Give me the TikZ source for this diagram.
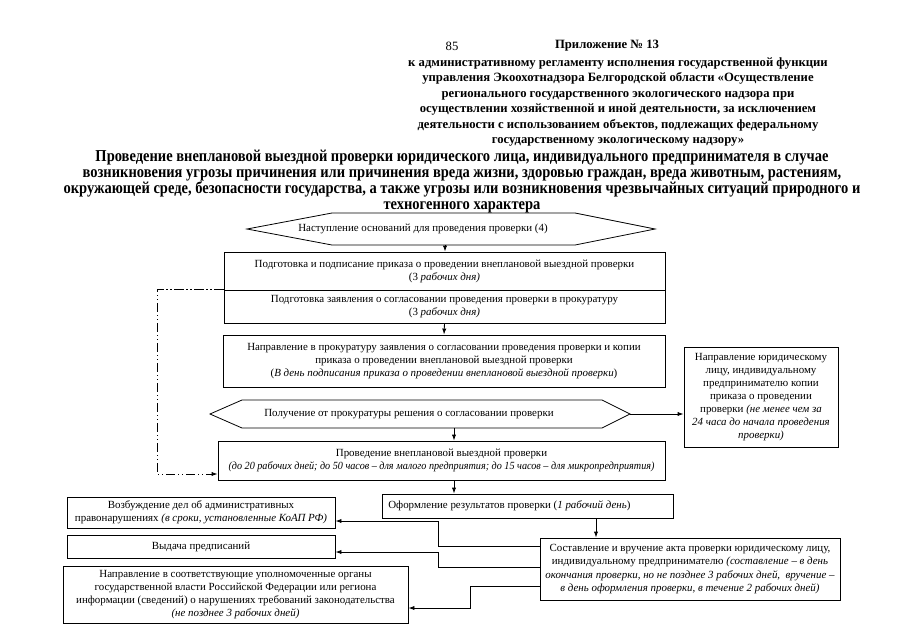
\documentclass[tikz,border=0pt]{standalone}
\usepackage{fontspec}
\setmainfont{Liberation Serif}
\newfontfamily\titlefont[FakeStretch=0.87]{Liberation Serif}
\newfontfamily\narrowit[FakeStretch=0.93]{Liberation Serif}
\usetikzlibrary{arrows.meta,shadows}
\newcommand\bxf{\fontsize{8.2}{9.8}\selectfont}
\newcommand\hdf{\fontsize{9.5}{11.6}\selectfont}
\begin{document}
\begin{tikzpicture}[x=0.75pt,y=-0.75pt,
  box/.style={draw, fill=white, line width=0.65pt, inner sep=0pt, align=center, font=\bxf,
    drop shadow={shadow xshift=0.8pt, shadow yshift=-0.8pt, fill=black!75, opacity=1}},
  txt/.style={inner sep=0pt, align=center, font=\bxf},
  hexline/.style={draw, line width=0.6pt},
  arr/.style={-{Latex[length=4.5pt,width=3.2pt]}, line width=0.65pt},
  ddarr/.style={arr, dash pattern=on 7pt off 2pt on 1pt off 2pt on 1pt off 2pt}]
\useasboundingbox (0,0) rectangle (905,640);
% header
\node[inner sep=0pt, font=\hdf] (p85) at (452,46) {85};
\node[inner sep=0pt, font=\hdf\bfseries] (app) at (607,46) {Приложение № 13};
\node[inner sep=0pt, font=\hdf\bfseries, align=center] (reg) at (618,102) {к административному регламенту исполнения государственной функции\\управления Экоохотнадзора Белгородской области «Осуществление\\регионального государственного экологического надзора при\\осуществлении хозяйственной и иной деятельности, за исключением\\деятельности с использованием объектов, подлежащих федеральному\\государственному экологическому надзору»};
\node[inner sep=0pt, font=\titlefont\bfseries\fontsize{12.5}{12}\selectfont, align=center] (title) at (462,181.5) {Проведение внеплановой выездной проверки юридического лица, индивидуального предпринимателя в случае\\возникновения угрозы причинения или причинения вреда жизни, здоровью граждан, вреда животным, растениям,\\окружающей среде, безопасности государства, а также угрозы или возникновения чрезвычайных ситуаций природного и\\техногенного характера};
% hexagon 1
\draw[hexline] (247,229) -- (332,213) -- (575,213) -- (655,229) -- (575,245) -- (332,245) -- cycle;
\node[txt] (h1) at (423,229) {Наступление оснований для проведения проверки (4)};
\coordinate (h1b) at (445,245);
% boxes
\node[box, minimum width=441*0.75pt, minimum height=38*0.75pt] (b1) at (444.5,271) {Подготовка и подписание приказа о проведении внеплановой выездной проверки\\(3 \textit{рабочих дня)}};
\node[box, minimum width=441*0.75pt, minimum height=33*0.75pt] (b2) at (444.5,306.5) {Подготовка заявления о согласовании проведения проверки в прокуратуру\\(3 \textit{рабочих дня)}};
\node[box, minimum width=442*0.75pt, minimum height=52*0.75pt] (b3) at (444,361) {Направление в прокуратуру заявления о согласовании проведения проверки и копии\\приказа о проведении внеплановой выездной проверки\\(\textit{В день подписания приказа о проведении внеплановой выездной проверки})};
% hexagon 2
\draw[hexline] (210,414) -- (242,400) -- (602,400) -- (630,414) -- (602,428) -- (242,428) -- cycle;
\node[txt] (h2) at (409,414) {Получение от прокуратуры решения о согласовании проверки};
\coordinate (h2b) at (454,428);
\coordinate (h2r) at (630,414);
\node[box, minimum width=154*0.75pt, minimum height=100*0.75pt] (r) at (761,397) {Направление юридическому\\лицу, индивидуальному\\предпринимателю копии\\приказа о проведении\\проверки \textit{(не менее чем за}\\\textit{24 часа до начала проведения}\\\textit{проверки)}};
\node[box, minimum width=447*0.75pt, minimum height=39*0.75pt] (b4) at (441.5,460.5) {Проведение внеплановой выездной проверки\\{\narrowit\itshape (до 20 рабочих дней; до 50 часов – для малого предприятия; до 15 часов – для микропредприятия)}};
\node[box, minimum width=291*0.75pt, minimum height=24*0.75pt] (b5) at (527.5,506) {};
\node[txt, anchor=west] (b5t) at (388,506) {Оформление результатов проверки (\textit{1 рабочий день})};
\node[box, minimum width=300*0.75pt, minimum height=62*0.75pt] (b6) at (690,569) {Составление и вручение акта проверки юридическому лицу,\\индивидуальному предпринимателю \textit{(составление – в день}\\\textit{окончания проверки, но не позднее 3 рабочих дней,\ \ вручение –}\\\textit{в день оформления проверки, в течение 2 рабочих дней)}};
\node[box, minimum width=268*0.75pt, minimum height=31*0.75pt] (c1) at (201,512.5) {Возбуждение дел об административных\\правонарушениях \textit{(в сроки, установленные КоАП РФ)}};
\node[box, minimum width=268*0.75pt, minimum height=23*0.75pt] (c2) at (201,546.5) {Выдача предписаний};
\node[box, minimum width=345*0.75pt, minimum height=57*0.75pt] (c3) at (235.5,594.5) {Направление в соответствующие уполномоченные органы\\государственной власти Российской Федерации или региона\\информации (сведений) о нарушениях требований законодательства\\\textit{(не позднее 3 рабочих дней)}};
% connectors
\draw[arr] (h1b) -- (h1b |- b1.north);
\draw[arr] (b2.south) -- (b3.north);
\draw[arr] (h2b) -- (h2b |- b4.north);
\draw[arr] (h2b |- b4.south) -- (h2b |- b5.north);
\draw[arr] (h2r) -- (h2r -| r.west);
\coordinate (ddc) at (157,474);
\draw[ddarr] (b2.north west) -| (ddc) -- (ddc -| b4.west);
\coordinate (k) at (596,518);
\draw[arr] (k |- b5.south) -- (k |- b6.north);
\coordinate (j1) at (438,521);
\coordinate (j2) at (438,552);
\coordinate (j3) at (470,608);
\draw[arr] ([yshift=-6.75pt]b6.north west) -| (j1) -- (j1 -| c1.east);
\draw[arr] ([yshift=-22.5pt]b6.north west) -| (j2) -- (j2 -| c2.east);
\draw[arr] ([yshift=-36.75pt]b6.north west) -| (j3) -- (j3 -| c3.east);
\end{tikzpicture}
\end{document}
